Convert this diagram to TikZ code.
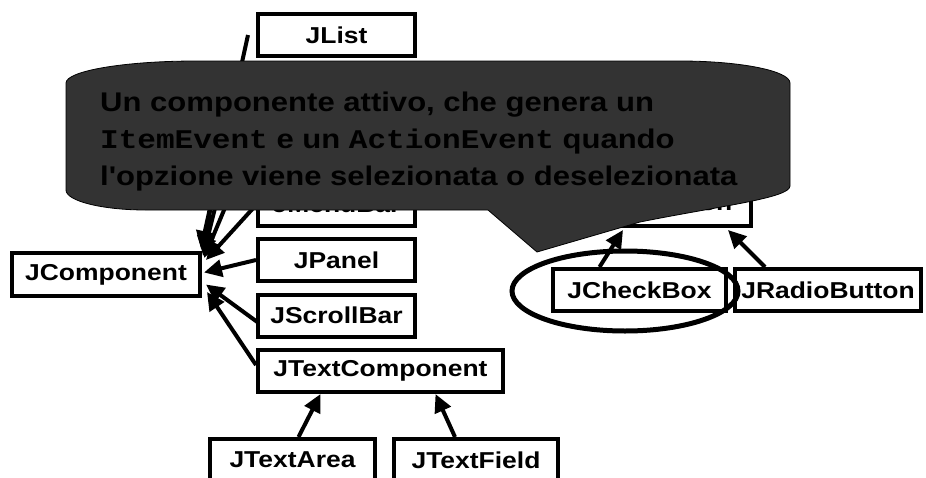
\documentclass[tikz,border=0pt]{standalone}
\usepackage{fontspec}
\setmainfont{Liberation Sans}[FakeStretch=1.15]
\setmonofont{Liberation Mono}[FakeStretch=1.15]
\newfontfamily\msgfont{Liberation Sans}[FakeStretch=1.15]
\usetikzlibrary{arrows.meta,positioning,calc}
\definecolor{calloutgray}{RGB}{51,51,51}

\begin{document}
\begin{tikzpicture}
[x=1pt,y=-1pt,
box/.style={draw,line width=4pt,fill=white,inner sep=0pt,minimum height=42pt,font=\bfseries\fontsize{23}{27}\selectfont},
edge/.style={line width=4pt,-{Triangle[length=18pt,width=17pt]}},
msg/.style={anchor=base west,inner sep=0pt,font=\msgfont\bfseries\fontsize{27}{37}\selectfont}]
%%%%%%%%%%
\useasboundingbox (0,0) rectangle (926,477);

\node[box,minimum width=157pt] (jlist) at (336.5,35) {JList};
\node[box,minimum width=157pt] (jmenubar) at (336.5,205) {JMenuBar};
\node[box,minimum width=157pt] (jpanel) at (336.5,260) {JPanel};
\node[box,minimum width=157pt] (jscroll) at (336.5,315.5) {JScrollBar};
\node[box,minimum width=245pt] (jtextcomp) at (380.5,371) {JTextComponent};
\node[box,minimum width=165pt] (jtextarea) at (292.5,460) {JTextArea};
\node[box,minimum width=164pt] (jtextfield) at (476,460) {JTextField};
\node[box,minimum width=188pt,minimum height=43pt] (jcomp) at (106,274.5) {JComponent};
\node[box,minimum width=221pt] (jtoggle) at (640,205) {JToggleButton};
\node[box,minimum width=173pt] (jcheck) at (639.5,290) {JCheckBox};
\node[box,minimum width=186pt] (jradio) at (828,290) {JRadioButton};

% ends hidden under the callout
\coordinate (h1) at (228,100);
\coordinate (h2) at (242,100);
\coordinate (h3) at (270,100);

\draw[edge] ($(jlist.west)+(-8,0)$) -- ($(jcomp.north east)+(-1,-2)$);
\draw[edge] (h1) -- ($(jcomp.north east)+(1,3)$);
\draw[edge] (h2) -- ($(jcomp.north east)+(1,5)$);
\draw[edge] (h3) -- ($(jcomp.north east)+(2,7)$);
\draw[edge] (jmenubar.west) -- ($(jcomp.north east)+(4,9)$);
\draw[edge] (jpanel.west) -- ($(jcomp.east)+(2,-2)$);
\draw[edge] ($(jscroll.west)+(2,7)$) -- ($(jcomp.east)+(4,10)$);
\draw[edge] ($(jtextcomp.west)+(0,-6)$) -- ($(jcomp.south east)+(5,-6)$);
\draw[edge] ($(jtextarea.north)+(6,0)$) -- ($(jtextcomp.south)+(-60,0)$);
\draw[edge] ($(jtextfield.north)+(-21,0)$) -- ($(jtextcomp.south)+(55,0)$);
\draw[edge] ($(jcheck.north)+(-40,0)$) -- ($(jtoggle.south)+(-17,2)$);
\draw[edge] ($(jradio.north)+(-63,0)$) -- ($(jtoggle.south)+(88,2)$);

% the callout
\draw[fill=calloutgray,line width=0.8pt]
  (66,190) -- (66,83) .. controls (66,71) and (124,61) .. (196,61)
  -- (680,61) .. controls (741,61) and (790,71) .. (790,83)
  -- (790,186) .. controls (790,198) and (720,206) .. (640,222)
  -- (537,252) -- (488,210)
  -- (146,210) .. controls (102,210) and (66,201) .. (66,190) -- cycle;
\node[msg] (msgA) at (100,111) {Un componente attivo, che genera un};
\node[msg] (msgB) at (100,148) {{\ttfamily\bfseries ItemEvent} e un {\ttfamily\bfseries ActionEvent} quando};
\node[msg] (msgC) at (100,185) {l'opzione viene selezionata o deselezionata};

\draw[line width=5pt] (625,291) ellipse [x radius=113, y radius=40];
\end{tikzpicture}
\end{document}
